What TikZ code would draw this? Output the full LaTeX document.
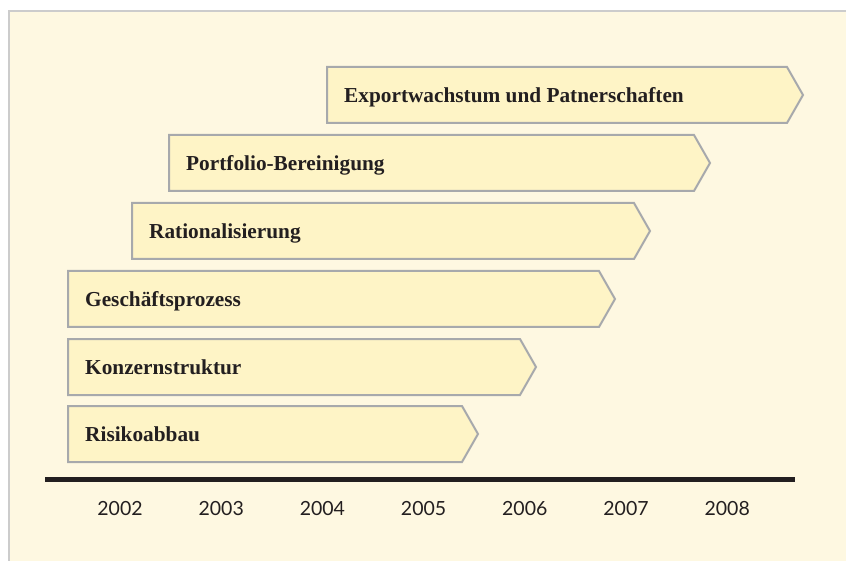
\documentclass[tikz,border=0pt]{standalone}
\usepackage{fontspec}
\setmainfont{Liberation Serif}
\newfontfamily\yearfont{Lato}
\definecolor{panel}{HTML}{FEF8E1}
\definecolor{barfill}{HTML}{FEF4C6}
\definecolor{barline}{HTML}{A7A9AC}
\definecolor{axisc}{HTML}{231F20}
\definecolor{frame}{HTML}{CCCCCC}
\newcommand\tlbar[5]{%
  \draw[bar] (#2,#3) -- (#4,#3) -- (#4+16,#3+28) -- (#4,#3+56) -- (#2,#3+56) -- cycle;
  \node[lbl] (#1) at (#2+17,#3+35.3) {#5};}
\begin{document}
\begin{tikzpicture}[x=1pt,y=-1pt,
  bar/.style={fill=barfill,draw=barline,line width=2pt,line join=miter},
  lbl/.style={anchor=base west,font=\bfseries\fontsize{21.3}{25}\selectfont,text=axisc,inner sep=0pt},
  yr/.style={anchor=base,font=\yearfont\fontsize{19.5}{23}\selectfont,text=axisc,inner sep=0pt}]
\useasboundingbox (0,0) rectangle (846,561);
\fill[white] (0,0) rectangle (846,561);
\fill[panel] (9,11) rectangle (852,570);
\draw[frame,line width=1.5pt] (9,570) -- (9,11) -- (852,11);
\tlbar{b1}{327}{67}{787}{Exportwachstum und Patnerschaften}
\tlbar{b2}{169}{135}{694}{Portfolio-Bereinigung}
\tlbar{b3}{132}{203}{634}{Rationalisierung}
\tlbar{b4}{68}{271}{599}{Geschäftsprozess}
\tlbar{b5}{68}{339}{520}{Konzernstruktur}
\tlbar{b6}{68}{406}{462}{Risikoabbau}
\coordinate (axL) at (45,479);
\coordinate (axR) at (795,479);
\draw[axisc,line width=5pt] (axL) -- (axR);
\foreach \y [count=\i from 0] in {2002,2003,2004,2005,2006,2007,2008}
  \node[yr] (y\y) at (120+101.2*\i,515) {\y};
\end{tikzpicture}
\end{document}
